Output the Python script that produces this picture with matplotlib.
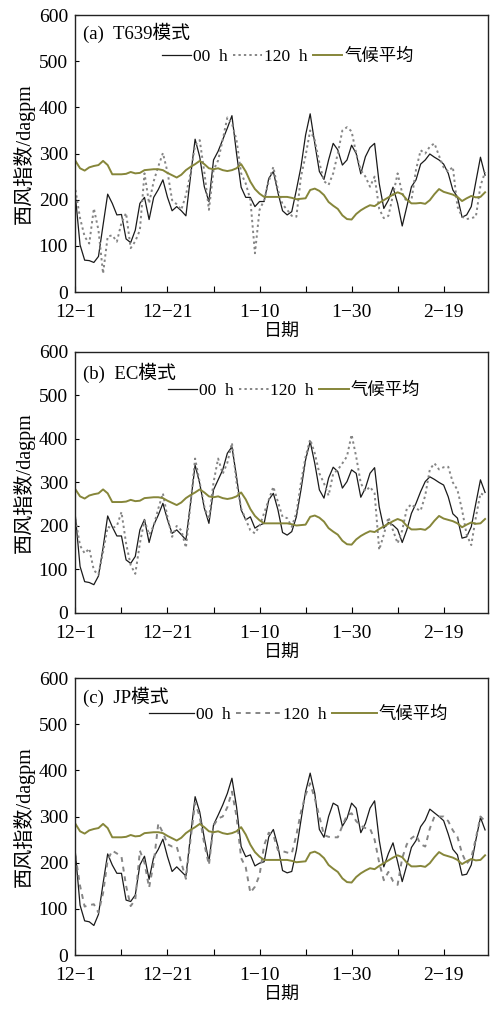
import numpy as np
import matplotlib
matplotlib.use('Agg')
import matplotlib.pyplot as plt
from matplotlib.ticker import MultipleLocator

plt.rcParams['font.family'] = ['Liberation Serif', 'Noto Sans CJK SC']
plt.rcParams['axes.unicode_minus'] = False

# daily westerly index, Dec 1 .. Feb 28 (dagpm)
tick_pos = [0, 20, 40, 60, 80]
tick_labels = ['12−1', '12−21', '1−10', '1−30', '2−19']

clim = [284, 268, 263, 270, 273, 275, 284, 275, 255, 255,
        255, 256, 260, 257, 258, 264, 265, 266, 266, 264,
        258, 253, 248, 254, 264, 271, 277, 284, 277, 268,
        266, 268, 264, 262, 264, 268, 277, 261, 239, 223,
        213, 206, 206, 206, 206, 206, 206, 204, 201, 202,
        203, 221, 224, 219, 210, 195, 187, 180, 166, 158,
        157, 169, 177, 183, 188, 186, 193, 199, 205, 211,
        216, 212, 200, 192, 192, 193, 191, 199, 212, 223,
        217, 214, 211, 206, 197, 203, 208, 205, 206, 216]

t639_00 = [206, 102, 69, 68, 64, 77, 145, 212, 192, 167,
           168, 115, 107, 134, 192, 205, 157, 205, 222, 243,
           205, 176, 185, 176, 165, 250, 331, 293, 228, 196,
           286, 305, 330, 355, 382, 300, 227, 205, 205, 185,
           196, 196, 246, 261, 215, 176, 167, 174, 221, 271,
           340, 386, 322, 261, 244, 286, 322, 308, 275, 286,
           318, 300, 256, 293, 313, 322, 235, 181, 199, 227,
           192, 143, 185, 228, 243, 277, 286, 299, 292, 286,
           277, 257, 221, 206, 162, 167, 185, 239, 292, 253]

t639_120 = [221, 160, 120, 105, 181, 134, 40, 120, 123, 109,
            150, 171, 95, 110, 134, 257, 192, 240, 272, 301,
            260, 199, 190, 178, 210, 257, 318, 329, 260, 178,
            264, 285, 330, 378, 365, 329, 257, 235, 200, 84,
            178, 199, 240, 271, 221, 190, 178, 165, 163, 250,
            295, 350, 329, 280, 240, 232, 257, 300, 350, 357,
            348, 300, 264, 250, 228, 250, 180, 160, 165, 210,
            257, 214, 195, 199, 265, 307, 300, 315, 322, 295,
            270, 261, 271, 185, 163, 158, 160, 163, 230, 260]

ec_00 = [221, 107, 72, 70, 65, 85, 150, 223, 198, 177,
         177, 122, 114, 130, 191, 215, 162, 202, 225, 252,
         214, 183, 191, 180, 168, 252, 340, 298, 241, 206,
         283, 306, 329, 367, 382, 313, 237, 214, 221, 195,
         202, 206, 260, 275, 237, 185, 179, 187, 221, 283,
         352, 394, 344, 283, 264, 310, 335, 325, 287, 302,
         329, 321, 266, 287, 321, 334, 244, 195, 208, 202,
         192, 162, 191, 229, 252, 279, 302, 313, 307, 300,
         294, 267, 228, 218, 172, 175, 198, 252, 306, 277]

ec_120 = [215, 155, 137, 148, 98, 88, 140, 198, 195, 200,
          232, 160, 110, 90, 160, 213, 180, 200, 240, 275,
          220, 175, 200, 190, 150, 250, 355, 300, 245, 215,
          300, 355, 320, 345, 391, 300, 240, 215, 190, 183,
          200, 230, 260, 290, 255, 221, 218, 198, 230, 300,
          359, 399, 367, 321, 298, 270, 320, 329, 344, 360,
          410, 359, 298, 280, 290, 275, 145, 180, 220, 190,
          160, 190, 240, 250, 240, 235, 270, 330, 344, 330,
          335, 336, 300, 283, 237, 180, 156, 220, 275, 270]

jp_00 = [220, 108, 74, 72, 64, 88, 155, 219, 195, 177,
         177, 119, 116, 130, 195, 214, 164, 212, 229, 251,
         213, 181, 191, 181, 171, 258, 343, 310, 253, 202,
         282, 303, 325, 350, 383, 321, 235, 213, 217, 193,
         199, 202, 256, 272, 235, 183, 178, 181, 227, 292,
         354, 394, 350, 272, 255, 300, 329, 323, 279, 296,
         329, 318, 265, 285, 318, 334, 249, 191, 220, 243,
         202, 159, 195, 233, 248, 278, 292, 316, 308, 300,
         291, 262, 229, 217, 173, 175, 195, 249, 298, 271]

jp_120 = [215, 150, 105, 108, 110, 92, 134, 206, 226, 220,
          213, 150, 106, 120, 226, 200, 146, 199, 285, 265,
          240, 235, 235, 200, 165, 250, 330, 300, 240, 195,
          280, 296, 300, 320, 354, 300, 210, 190, 135, 148,
          173, 238, 265, 260, 227, 225, 222, 220, 260, 310,
          347, 372, 339, 300, 260, 256, 255, 255, 280, 303,
          307, 290, 280, 275, 274, 250, 200, 162, 180, 160,
          152, 210, 240, 253, 260, 240, 235, 274, 300, 300,
          300, 290, 270, 256, 220, 198, 210, 253, 300, 290]

# title, 00h, 120h, 120h dash, axes rect, title y, legend y, legend x, handle length
panels = [
    ('(a)  T639模式', t639_00, t639_120, (0, (1.2, 1.6)), [0.1515, 0.7106, 0.834, 0.2745], 0.935, 0.848, 0.21, 1.7),
    ('(b)  EC模式', ec_00, ec_120, (0, (1.2, 1.6)), [0.1515, 0.3925, 0.834, 0.2587], 0.92, 0.85, 0.225, 1.7),
    ('(c)  JP模式', jp_00, jp_120, (0, (2.5, 2.5)), [0.1515, 0.0535, 0.834, 0.2745], 0.931, 0.866, 0.18, 2.6),
]

OLIVE = '#86863a'
GRAY = '#858585'

fig = plt.figure(figsize=(4.95, 10.09), dpi=100)

for title, s00, s120, ls120, rect, ty, ly, lx, hl in panels:
    ax = fig.add_axes(rect)
    days = np.arange(len(clim))
    ax.plot(days, s00, color='#1a1a1a', lw=0.9, label='00  h')
    ax.plot(days, s120, color=GRAY, lw=1.4, linestyle=ls120, label='120  h')
    ax.plot(days, clim, color=OLIVE, lw=1.4, label='气候平均')

    ax.set_xlim(-0.1, 89.6)
    ax.set_ylim(0, 600)
    ax.set_xticks(tick_pos)
    ax.set_xticklabels(tick_labels)
    ax.xaxis.set_minor_locator(MultipleLocator(10))
    ax.yaxis.set_major_locator(MultipleLocator(100))
    ax.tick_params(axis='x', which='both', direction='in', length=4, width=0.8,
                   labelsize=14, pad=8.5)
    ax.tick_params(axis='y', which='both', direction='in', length=3, width=0.8,
                   labelsize=14, pad=5)
    for sp in ax.spines.values():
        sp.set_linewidth(1.0)
        sp.set_color('#222222')

    ax.set_ylabel('西风指数/dagpm', fontsize=14.5, labelpad=3)
    ax.set_xlabel('日期', fontsize=13, labelpad=2)

    ax.text(0.02, ty, title, transform=ax.transAxes, fontsize=13.5,
            ha='left', va='center')
    ax.legend(loc='center left', bbox_to_anchor=(lx, ly), ncol=3, frameon=False,
              fontsize=12.5, handlelength=hl, handletextpad=0.1,
              columnspacing=0.3, borderpad=0, borderaxespad=0)

fig.savefig('out.png', dpi=100)
